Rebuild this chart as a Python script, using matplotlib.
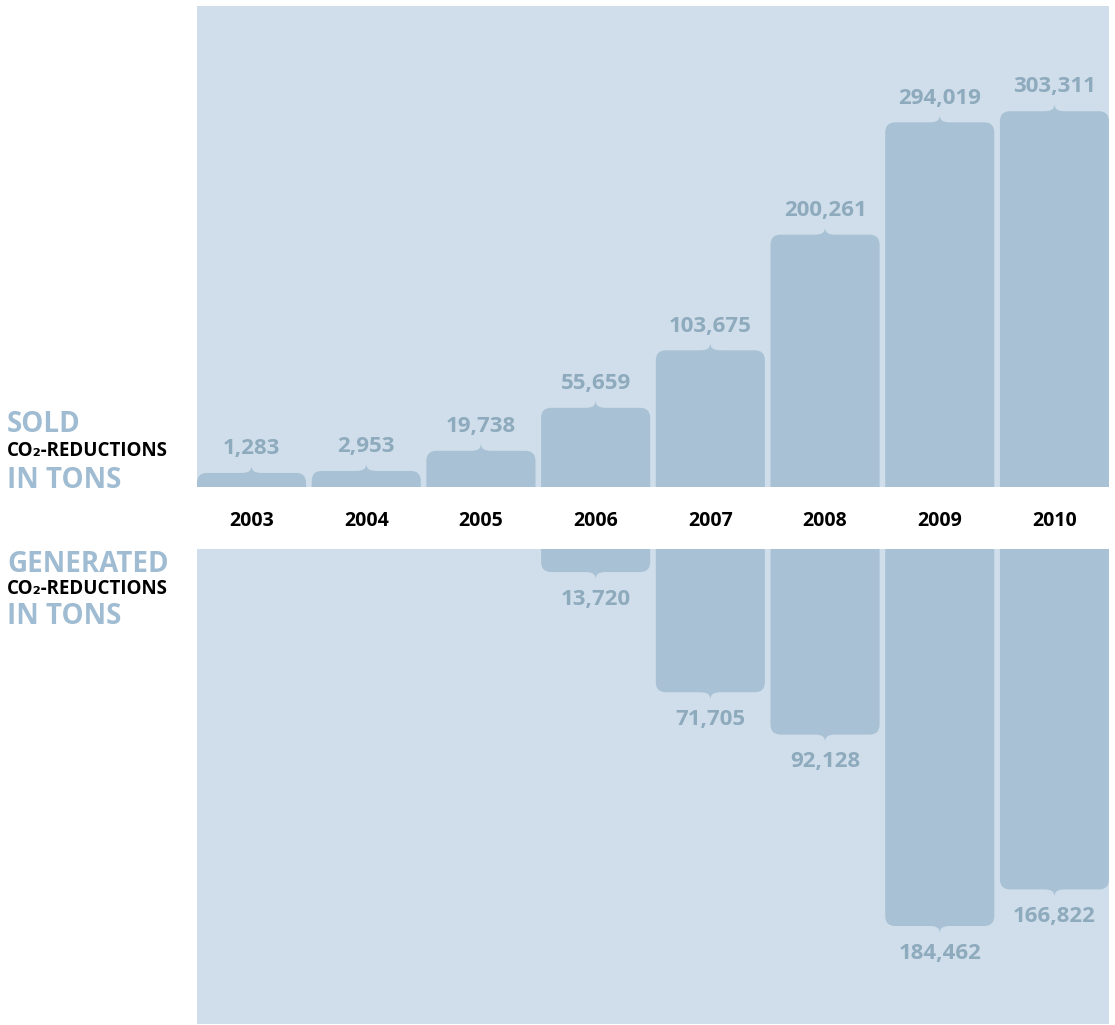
import matplotlib
matplotlib.use("Agg")
import matplotlib.pyplot as plt
from matplotlib.path import Path
from matplotlib.patches import PathPatch
from matplotlib.transforms import IdentityTransform

years = ["2003", "2004", "2005", "2006", "2007", "2008", "2009", "2010"]
sold = [1283, 2953, 19738, 55659, 103675, 200261, 294019, 303311]
generated = [0, 0, 0, 13720, 71705, 92128, 184462, 166822]

W, H = 1115, 1025
panel_col = "#cfdeea"
bar_col = "#a8c1d4"
value_col = "#8eaabd"
head_col = "#a0bcd2"

plt.rcParams["font.family"] = ["Open Sans", "DejaVu Sans"]

fig = plt.figure(figsize=(W / 100, H / 100), dpi=100)


def px_axes(x0, y0, x1, y1):
    # pixel box (from top-left) -> figure axes
    return fig.add_axes([x0 / W, 1 - y1 / H, (x1 - x0) / W, (y1 - y0) / H])


ax_top = px_axes(197, 6, 1109, 487)
ax_bot = px_axes(197, 549, 1109, 1024)

bw = 0.951
pad_top = 10460
bot_start = 2600
for ax in (ax_top, ax_bot):
    ax.set_facecolor(panel_col)
    ax.set_xlim(-bw / 2, len(years) - 1 + bw / 2)
    for s in ax.spines.values():
        s.set_visible(False)
    ax.tick_params(left=False, labelleft=False, bottom=False, labelbottom=False)
ax_top.set_ylim(-pad_top, 391200)
ax_bot.set_ylim(231740, bot_start)

ax_top.set_xticks(range(len(years)))
ax_top.set_xticklabels(years, fontsize=14, fontweight="bold", color="black")
ax_top.tick_params(labelbottom=True, pad=14)


def bar_shape(x0, x1, yb, ye, sgn, r=10, tw=11, th=8):
    # yb: base edge, ye: far edge (display px); sgn=+1 grows up, -1 down
    xc = (x0 + x1) / 2
    r = min(r, abs(ye - yb))
    verts = [(x0, yb), (x0, ye - sgn * r), (x0, ye), (x0 + r, ye),
             (xc - tw, ye), (xc - 0.2 * tw, ye), (xc, ye + sgn * 0.3 * th), (xc, ye + sgn * th),
             (xc, ye + sgn * 0.3 * th), (xc + 0.2 * tw, ye), (xc + tw, ye),
             (x1 - r, ye), (x1, ye), (x1, ye - sgn * r), (x1, yb), (x0, yb)]
    codes = [Path.MOVETO, Path.LINETO, Path.CURVE3, Path.CURVE3,
             Path.LINETO, Path.CURVE4, Path.CURVE4, Path.CURVE4,
             Path.CURVE4, Path.CURVE4, Path.CURVE4,
             Path.LINETO, Path.CURVE3, Path.CURVE3, Path.LINETO, Path.CLOSEPOLY]
    return Path(verts, codes)


for i, (s, g) in enumerate(zip(sold, generated)):
    (x0, yb), (x1, ye) = ax_top.transData.transform([(i - bw / 2, -pad_top), (i + bw / 2, s)])
    fig.patches.append(PathPatch(bar_shape(x0, x1, yb, ye, 1), facecolor=bar_col,
                                 edgecolor="none", transform=IdentityTransform(), figure=fig))
    ax_top.annotate(f"{s:,}", (i, s), xytext=(0, 17.5), textcoords="offset points",
                    ha="center", va="center", fontsize=16, fontweight="bold", color=value_col)
    if g > 0:
        (x0, yb), (x1, ye) = ax_bot.transData.transform([(i - bw / 2, bot_start), (i + bw / 2, g)])
        fig.patches.append(PathPatch(bar_shape(x0, x1, yb, ye, -1), facecolor=bar_col,
                                     edgecolor="none", transform=IdentityTransform(), figure=fig))
        ax_bot.annotate(f"{g:,}", (i, g), xytext=(0, -19.5), textcoords="offset points",
                        ha="center", va="center", fontsize=16, fontweight="bold", color=value_col)


def left_label(y, text, size, color):
    fig.text(7 / W, 1 - y / H, text, ha="left", va="center", fontsize=size,
             fontweight="bold", color=color)


left_label(425, "SOLD", 20, head_col)
left_label(451, "CO₂-REDUCTIONS", 13.5, "black")
left_label(480, "IN TONS", 20, head_col)
left_label(564, "GENERATED", 20, head_col)
left_label(589, "CO₂-REDUCTIONS", 13.5, "black")
left_label(617, "IN TONS", 20, head_col)

fig.savefig("out.png", dpi=100)
